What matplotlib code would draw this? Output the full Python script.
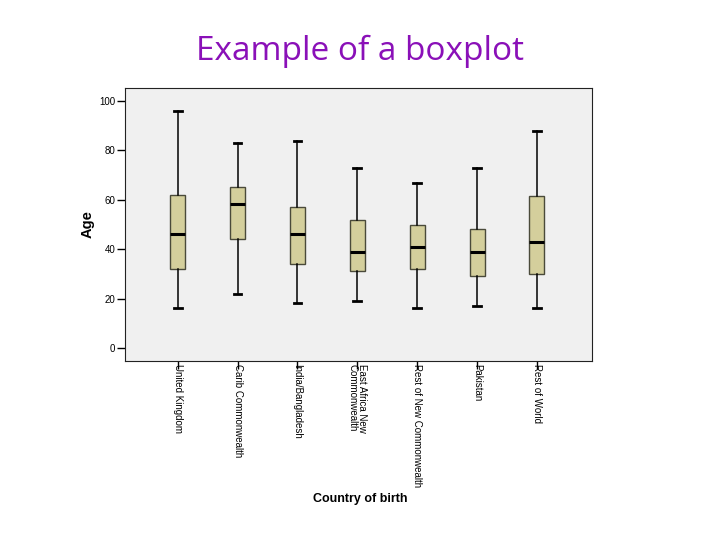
import matplotlib.pyplot as plt

countries = ['United Kingdom', 'Carib Commonwealth', 'India/Bangladesh',
             'East Africa New\nCommonwealth', 'Rest of New Commonwealth',
             'Pakistan', 'Rest of World']
whisk_lo = [16, 22, 18, 19, 16, 17, 16]
q1 = [32, 44, 34, 31, 32, 29, 30]
median = [46, 58.5, 46, 39, 41, 39, 43]
q3 = [62, 65, 57, 52, 50, 48, 61.5]
whisk_hi = [96, 83, 84, 73, 67, 73, 88]

plt.rcParams['font.family'] = ['Liberation Sans', 'DejaVu Sans']

fig = plt.figure(figsize=(7.2, 5.4), dpi=100)
ax = fig.add_axes([0.1736, 0.3315, 0.6486, 0.5055])
ax.set_facecolor('#f0f0f0')

stats = []
for i in range(len(countries)):
    stats.append({'whislo': whisk_lo[i], 'q1': q1[i], 'med': median[i],
                  'q3': q3[i], 'whishi': whisk_hi[i], 'fliers': []})

ax.bxp(stats, positions=range(1, len(countries) + 1), widths=0.25,
       capwidths=0.13, patch_artist=True, showfliers=False,
       boxprops=dict(facecolor='#d4cf9c', edgecolor='#4a4a3a', linewidth=1),
       medianprops=dict(color='black', linewidth=2.2),
       whiskerprops=dict(color='black', linewidth=1.1),
       capprops=dict(color='black', linewidth=2))

ax.set_xlim(0.12, 7.92)
ax.set_ylim(-5.3, 105.3)
ax.set_yticks([0, 20, 40, 60, 80, 100])
ax.set_xticks(range(1, len(countries) + 1))
ax.set_xticklabels(countries, rotation=270, ha='center', va='top',
                   fontsize=7, linespacing=0.9)
ax.tick_params(axis='y', labelsize=7, length=6, width=1, pad=1)
ax.tick_params(axis='x', length=6, width=1, pad=-4)
for s in ax.spines.values():
    s.set_color('#222222')

ax.set_ylabel('Age', fontsize=10.5, fontweight='bold', labelpad=3)
fig.text(0.5, 0.076, 'Country of birth', fontsize=9, fontweight='bold',
         ha='center', va='center')
fig.text(0.5, 0.905, 'Example of a boxplot', fontsize=24, color='#8a10b8',
         ha='center', va='center', family=['Open Sans', 'DejaVu Sans'])

fig.savefig('out.png', dpi=100)
